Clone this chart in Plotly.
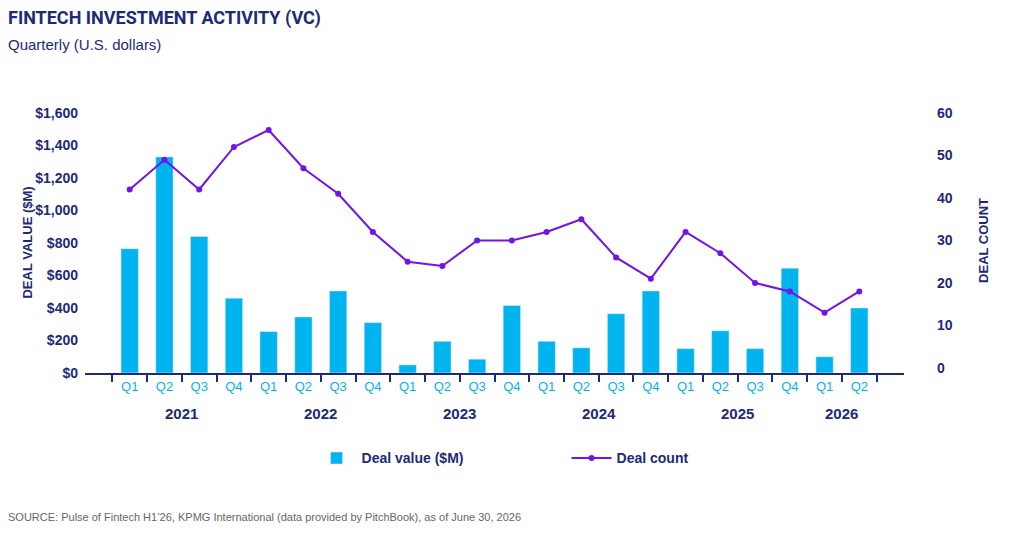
import plotly.graph_objects as go

# quarters and years
years = ["2021", "2022", "2023", "2024", "2025", "2026"]
quarters = ["Q1", "Q2", "Q3", "Q4"] * 5 + ["Q1", "Q2"]
periods = [f"{y} {q}" for y in years for q in ["Q1", "Q2", "Q3", "Q4"]][:22]

# values
deal_value = [765, 1330, 840, 460, 255, 345, 505, 310, 50, 195, 85, 415,
              195, 155, 365, 505, 150, 260, 150, 645, 100, 400]
deal_count = [42, 49, 42, 52, 56, 47, 41, 32, 25, 24, 30, 30,
              32, 35, 26, 21, 32, 27, 20, 18, 13, 18]

navy = "#1c2a78"
light_blue = "#00b4f0"
purple = "#7213ea"
body_font = "Liberation Sans, Arial, sans-serif"

fig = go.Figure()
fig.add_trace(go.Bar(x=periods, y=deal_value, name="Deal value ($M)",
                     marker_color=light_blue, width=0.5))
fig.add_trace(go.Scatter(x=periods, y=deal_count, name="Deal count", yaxis="y2",
                         mode="lines+markers",
                         line=dict(color=purple, width=2),
                         marker=dict(color=purple, size=6)))

# year labels under the quarters
annotations = []
for i, y in enumerate(years):
    idx = [k for k, p in enumerate(periods) if p.startswith(y)]
    annotations.append(dict(x=sum(idx) / len(idx), y=-0.154, xref="x", yref="paper",
                            yanchor="middle", text=f"<b>{y}</b>", showarrow=False,
                            font=dict(size=15, color=navy, family=body_font)))

annotations += [
    dict(x=-0.083, y=0.5, xref="paper", yref="paper", text="<b>DEAL VALUE ($M)</b>",
         textangle=-90, showarrow=False, font=dict(size=13, color=navy, family=body_font)),
    dict(x=1.1087, y=0.51, xref="paper", yref="paper", text="<b>DEAL COUNT</b>",
         textangle=-90, showarrow=False, font=dict(size=13, color=navy, family=body_font)),
    dict(x=-0.097, y=1.365, xref="paper", yref="paper", xanchor="left", yanchor="middle",
         text="<b>FINTECH INVESTMENT ACTIVITY (VC)</b>", showarrow=False,
         font=dict(size=18, color=navy, family="Roboto, sans-serif")),
    dict(x=-0.097, y=1.265, xref="paper", yref="paper", xanchor="left", yanchor="middle",
         text="Quarterly (U.S. dollars)", showarrow=False,
         font=dict(size=15, color=navy, family=body_font)),
    dict(x=-0.097, y=-0.554, xref="paper", yref="paper", xanchor="left", yanchor="middle",
         text="SOURCE: Pulse of Fintech H1\u201926, KPMG International (data provided by PitchBook), as of June 30, 2026",
         showarrow=False, font=dict(size=11, color="#666666", family=body_font)),
]

fig.update_layout(
    width=1016, height=528,
    margin=dict(l=77, r=120, t=105, b=163),
    plot_bgcolor="white", paper_bgcolor="white",
    showlegend=True,
    legend=dict(orientation="h", x=0.2766, xanchor="left", y=-0.267, yanchor="top",
                font=dict(size=14, color=navy, family=body_font, weight="bold"),
                entrywidth=200, itemwidth=40),
    annotations=annotations,
    xaxis=dict(type="category", tickvals=periods, ticktext=quarters,
               showline=True, linecolor=navy, linewidth=2,
               ticks="outside", tickson="boundaries", ticklen=7, tickwidth=2, tickcolor=navy,
               tickfont=dict(size=13, color=light_blue, family=body_font),
               showgrid=False),
    yaxis=dict(range=[0, 1600], dtick=200, tickprefix="$", tickformat=",.0f",
               showgrid=False, zeroline=False, ticklabelstandoff=6,
               tickfont=dict(size=14, color=navy, family=body_font, weight="bold")),
    yaxis2=dict(overlaying="y", side="right", range=[-1.2, 60], dtick=10,
                showgrid=False, zeroline=False, ticklabelstandoff=32,
                tickfont=dict(size=14, color=navy, family=body_font, weight="bold")),
)

fig.write_html("out.html")
